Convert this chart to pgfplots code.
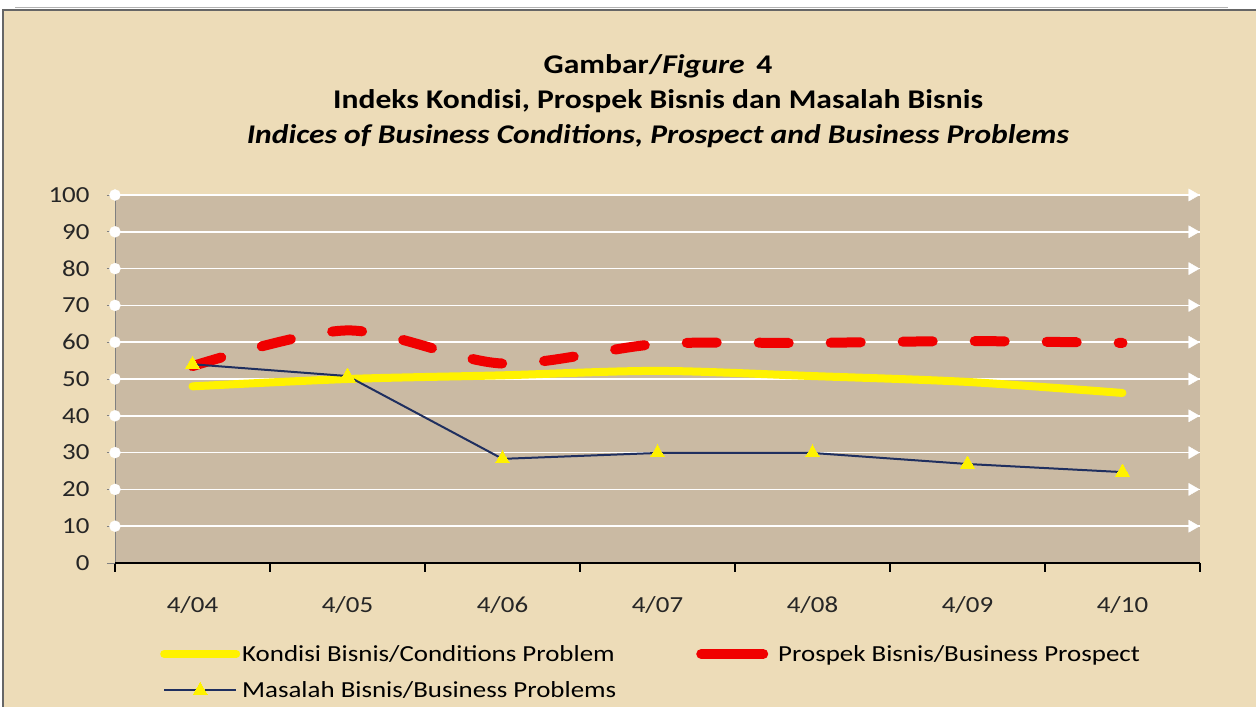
\documentclass[border=0pt]{standalone}
\usepackage{pgfplots}
\pgfplotsset{compat=1.18}
\usepackage{fontspec}
\setmainfont{Carlito}[FakeStretch=1.17]
\definecolor{parch}{HTML}{EDDCB8}
\definecolor{plotbg}{HTML}{CABAA3}
\definecolor{navy}{HTML}{1F2F5F}
\definecolor{yel}{HTML}{FFF200}
\definecolor{redd}{HTML}{F00000}
\pgfplotsset{redlegend/.style={legend image code/.code={\draw[##1,solid] (5bp,0bp) -- (67bp,0bp);}}}
\begin{document}
\begin{tikzpicture}
\useasboundingbox (0,0) rectangle (1256bp,707bp);
\fill[white] (0,0) rectangle (1256bp,707bp);
\draw[gray!60,line width=0.8bp] (15bp,700bp) -- (1228bp,700bp);
\fill[parch] (3bp,0) rectangle (1256bp,697bp);
\draw[gray!80!black,line width=2.5bp] (3bp,0) -- (3bp,697bp) -- (1256bp,697bp);
\node[align=center,font=\fontsize{27bp}{35bp}\selectfont\bfseries] at (658bp,606bp)
  {Gambar/\textit{Figure}\,\ 4\\Indeks Kondisi, Prospek Bisnis dan Masalah Bisnis\\\textit{Indices of Business Conditions, Prospect and Business Problems}};
\begin{axis}[
  at={(115bp,144bp)}, anchor=south west,
  scale only axis, width=1085bp, height=368bp,
  xmin=-0.5, xmax=6.5, ymin=0, ymax=100,
  clip=false,
  axis background/.style={fill=plotbg},
  axis line style={draw=none},
  xtick pos=bottom, ytick pos=left,
  xtick={0,...,6},
  xticklabels={4/04,4/05,4/06,4/07,4/08,4/09,4/10},
  major x tick style={draw=none},
  minor xtick={-0.5,0.5,...,6.5},
  minor x tick style={black,line width=1.2bp},
  ytick={0,10,...,100},
  y tick style={gray,line width=0.8bp},
  tick align=outside,
  major tick length=8bp, minor tick length=9bp,
  ymajorgrids, grid style={white,line width=1.5bp},
  xticklabel style={yshift=-22bp},
  yticklabel style={xshift=-14bp},
  tick label style={font=\fontsize{23bp}{26bp}\selectfont, text=black!85},
  /pgf/number format/assume math mode=true,
  legend columns=2,
  legend cell align=left,
  legend style={draw=none, fill=none, at={(42bp,-78bp)}, anchor=north west,
    font=\fontsize{23bp}{26bp}\selectfont, row sep=15bp,
    /tikz/column 2/.style={column sep=78bp},
    /tikz/column 3/.style={column sep=8bp},
    /tikz/column 1/.style={column sep=0bp}},
  legend image code/.code={\draw[#1,solid,mark repeat=2,mark phase=2] plot coordinates {(0bp,0bp) (36bp,0bp) (72bp,0bp)};},
]
% axis lines
\draw[gray,line width=0.8bp] (axis cs:-0.5,0) -- (axis cs:-0.5,100);
\draw[black,line width=1.5bp] (axis cs:-0.5,0) -- (axis cs:6.5,0);
% Kondisi
\addplot[yel, line width=8bp, smooth, line cap=round] coordinates {
 (0,48.0) (1,50.0) (2,51.0) (3,52.2) (4,50.8) (5,49.2) (6,46.2)};
\addlegendentry{Kondisi Bisnis/Conditions Problem}
% Prospek
\addplot[redd, line width=10bp, line cap=round, dash pattern=on 30bp off 42bp, smooth, redlegend] coordinates {
 (0,53.5) (1,63.2) (2,54.2) (3,59.5) (4,59.8) (5,60.3) (6,59.8)};
\addlegendentry{Prospek Bisnis/Business Prospect}
% Masalah
\addplot[navy, line width=2bp, mark=triangle*, mark size=8bp, mark options={yel, fill=yel, line width=0pt}] coordinates {
 (0,54.0) (1,50.8) (2,28.3) (3,29.9) (4,29.9) (5,26.9) (6,24.7)};
\addlegendentry{Masalah Bisnis/Business Problems}
% decorative markers
\addplot[only marks, mark=*, mark size=5.5bp, mark options={white, fill=white}, forget plot] coordinates {
 (-0.5,10) (-0.5,20) (-0.5,30) (-0.5,40) (-0.5,50) (-0.5,60) (-0.5,70) (-0.5,80) (-0.5,90) (-0.5,100)};
\addplot[only marks, mark=triangle*, mark size=7bp, mark options={white, fill=white, rotate=-90}, forget plot] coordinates {
 (6.45,10) (6.45,20) (6.45,30) (6.45,40) (6.45,50) (6.45,60) (6.45,70) (6.45,80) (6.45,90) (6.45,100)};
\end{axis}
\end{tikzpicture}
\end{document}
